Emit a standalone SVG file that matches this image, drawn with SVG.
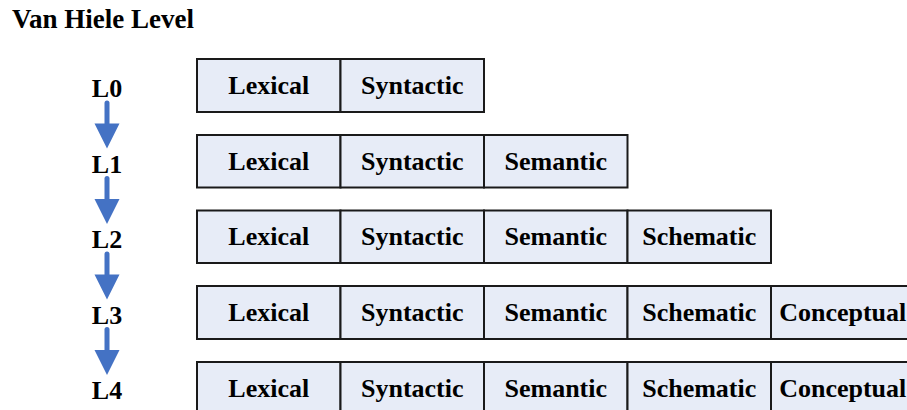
<svg xmlns="http://www.w3.org/2000/svg" width="907" height="410" viewBox="0 0 907 410">
  <style>
    .cell { fill: #E7ECF7; stroke: #1A1A1A; stroke-width: 2; }
    .txt { font-family: "Liberation Serif", "Times New Roman", serif; font-weight: bold; font-size: 26px; fill: #000; }
    .title { font-size: 27px; }
    .cellTxt { text-anchor: middle; }
    .lvl { text-anchor: middle; }
    .arrow { stroke: #4472C4; stroke-width: 5; stroke-linecap: round; fill: none; marker-end: url(#head); }
  </style>
  <defs>
    <marker id="head" markerUnits="userSpaceOnUse" markerWidth="26" markerHeight="26" refX="0" refY="12.5" orient="auto" overflow="visible">
      <path d="M0,0 L25,12.5 L0,25 Z" fill="#4472C4"/>
    </marker>
  </defs>

  <rect width="907" height="410" fill="#FFFFFF"/>

  <text class="txt title" x="12" y="28">Van Hiele Level</text>

  <!-- level labels -->
  <g id="level-L0"><text class="txt lvl" x="107" y="97">L0</text></g>
  <g id="level-L1"><text class="txt lvl" x="107" y="172.5">L1</text></g>
  <g id="level-L2"><text class="txt lvl" x="107" y="248">L2</text></g>
  <g id="level-L3"><text class="txt lvl" x="107" y="323.5">L3</text></g>
  <g id="level-L4"><text class="txt lvl" x="107" y="399">L4</text></g>

  <!-- arrows between levels -->
  <g id="connectors">
    <line class="arrow" x1="107" y1="103" x2="107" y2="123.5"/>
    <line class="arrow" x1="107" y1="178.5" x2="107" y2="199"/>
    <line class="arrow" x1="107" y1="254" x2="107" y2="274.5"/>
    <line class="arrow" x1="107" y1="329.5" x2="107" y2="350"/>
  </g>

  <!-- row L0 -->
  <g id="row-L0">
    <rect class="cell" x="197" y="59" width="143.5" height="53"/>
    <rect class="cell" x="340.5" y="59" width="143.5" height="53"/>
    <text class="txt cellTxt" x="268.75" y="93.5">Lexical</text>
    <text class="txt cellTxt" x="412.25" y="93.5">Syntactic</text>
  </g>

  <!-- row L1 -->
  <g id="row-L1">
    <rect class="cell" x="197" y="135" width="143.5" height="52.5"/>
    <rect class="cell" x="340.5" y="135" width="143.5" height="52.5"/>
    <rect class="cell" x="484" y="135" width="143.5" height="52.5"/>
    <text class="txt cellTxt" x="268.75" y="169.5">Lexical</text>
    <text class="txt cellTxt" x="412.25" y="169.5">Syntactic</text>
    <text class="txt cellTxt" x="555.75" y="169.5">Semantic</text>
  </g>

  <!-- row L2 -->
  <g id="row-L2">
    <rect class="cell" x="197" y="210.5" width="143.5" height="52.5"/>
    <rect class="cell" x="340.5" y="210.5" width="143.5" height="52.5"/>
    <rect class="cell" x="484" y="210.5" width="143.5" height="52.5"/>
    <rect class="cell" x="627.5" y="210.5" width="143.5" height="52.5"/>
    <text class="txt cellTxt" x="268.75" y="245">Lexical</text>
    <text class="txt cellTxt" x="412.25" y="245">Syntactic</text>
    <text class="txt cellTxt" x="555.75" y="245">Semantic</text>
    <text class="txt cellTxt" x="699.25" y="245">Schematic</text>
  </g>

  <!-- row L3 -->
  <g id="row-L3">
    <rect class="cell" x="197" y="286" width="143.5" height="53"/>
    <rect class="cell" x="340.5" y="286" width="143.5" height="53"/>
    <rect class="cell" x="484" y="286" width="143.5" height="53"/>
    <rect class="cell" x="627.5" y="286" width="143.5" height="53"/>
    <rect class="cell" x="771" y="286" width="143.5" height="53"/>
    <text class="txt cellTxt" x="268.75" y="320.5">Lexical</text>
    <text class="txt cellTxt" x="412.25" y="320.5">Syntactic</text>
    <text class="txt cellTxt" x="555.75" y="320.5">Semantic</text>
    <text class="txt cellTxt" x="699.25" y="320.5">Schematic</text>
    <text class="txt cellTxt" x="842.75" y="320.5">Conceptual</text>
  </g>

  <!-- row L4 -->
  <g id="row-L4">
    <rect class="cell" x="197" y="362" width="143.5" height="53"/>
    <rect class="cell" x="340.5" y="362" width="143.5" height="53"/>
    <rect class="cell" x="484" y="362" width="143.5" height="53"/>
    <rect class="cell" x="627.5" y="362" width="143.5" height="53"/>
    <rect class="cell" x="771" y="362" width="143.5" height="53"/>
    <text class="txt cellTxt" x="268.75" y="396.5">Lexical</text>
    <text class="txt cellTxt" x="412.25" y="396.5">Syntactic</text>
    <text class="txt cellTxt" x="555.75" y="396.5">Semantic</text>
    <text class="txt cellTxt" x="699.25" y="396.5">Schematic</text>
    <text class="txt cellTxt" x="842.75" y="396.5">Conceptual</text>
  </g>
</svg>
